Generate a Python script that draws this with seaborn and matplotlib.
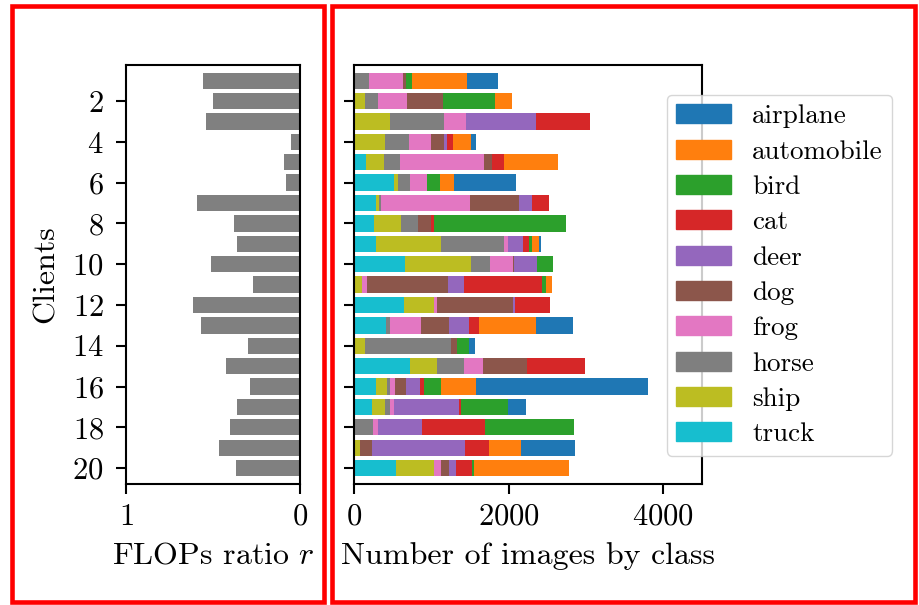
import numpy as np
import pandas as pd
import seaborn as sns
import matplotlib.pyplot as plt
from matplotlib.patches import Patch, Rectangle

# Per-client data
clients = list(range(1, 21))
flops_ratio = [0.56, 0.50, 0.54, 0.05, 0.09, 0.08, 0.59, 0.38, 0.36, 0.51,
               0.27, 0.615, 0.57, 0.30, 0.425, 0.29, 0.36, 0.40, 0.465, 0.37]

classes = ["airplane", "automobile", "bird", "cat", "deer",
           "dog", "frog", "horse", "ship", "truck"]

airplane = [400, 0, 0, 65, 0, 804, 0, 0, 22, 0, 0, 0, 479, 79, 0, 2222, 231, 0, 696, 0]
automobile = [709, 218, 0, 230, 705, 183, 0, 0, 95, 0, 79, 0, 739, 0, 0, 448, 0, 0, 421, 1217]
bird = [82, 669, 0, 0, 0, 174, 0, 1709, 35, 208, 43, 0, 0, 161, 0, 226, 608, 1139, 0, 31]
cat = [0, 0, 700, 83, 156, 0, 217, 44, 74, 0, 1009, 457, 122, 0, 760, 52, 22, 817, 305, 209]
deer = [0, 0, 905, 35, 0, 0, 165, 0, 196, 300, 217, 21, 261, 0, 0, 174, 848, 579, 1200, 87]
dog = [35, 470, 0, 165, 96, 0, 639, 165, 0, 13, 1044, 979, 369, 78, 557, 139, 0, 0, 161, 100]
frog = [435, 378, 287, 283, 1096, 217, 1148, 0, 52, 296, 65, 43, 391, 0, 257, 74, 52, 61, 0, 95]
horse = [200, 166, 695, 321, 208, 157, 31, 217, 817, 248, 0, 0, 53, 1109, 339, 35, 65, 243, 0, 0]
ship = [0, 143, 470, 396, 226, 52, 30, 344, 835, 856, 100, 392, 0, 143, 356, 139, 166, 0, 78, 492]
truck = [0, 0, 0, 0, 157, 513, 287, 265, 287, 657, 0, 643, 417, 0, 722, 287, 230, 0, 0, 543]

counts = pd.DataFrame({
    "airplane": airplane, "automobile": automobile, "bird": bird, "cat": cat,
    "deer": deer, "dog": dog, "frog": frog, "horse": horse, "ship": ship,
    "truck": truck,
}, index=clients)

palette = dict(zip(classes, sns.color_palette("tab10", 10)))

plt.rcParams["font.family"] = ["cmr10"]
plt.rcParams["mathtext.fontset"] = "cm"
plt.rcParams["axes.formatter.use_mathtext"] = True
plt.rcParams["font.size"] = 22

fig = plt.figure(figsize=(9.19, 6.05), dpi=100)
ax_l = fig.add_axes([0.1371, 0.2, 0.1893, 0.6926])
ax_r = fig.add_axes([0.3852, 0.2, 0.3787, 0.6926])

# Left: FLOPs ratio per client
df_l = pd.DataFrame({"client": clients, "r": flops_ratio})
sns.barplot(data=df_l, x="r", y="client", orient="y", native_scale=True,
            color="grey", saturation=1, ax=ax_l)
ax_l.set_xlim(1, 0)
ax_l.set_xticks([1, 0])
ax_l.set_xlabel("FLOPs ratio $r$", fontsize=23, labelpad=8)
ax_l.set_ylabel("Clients", fontsize=23, labelpad=9)

# Right: stacked counts. Stack order left to right is truck ... airplane,
# so draw cumulative totals from the longest down.
stack_order = classes[::-1]
cum = counts[stack_order].cumsum(axis=1)
for cls in classes:
    sns.barplot(x=cum[cls].values, y=clients, orient="y", native_scale=True,
                color=palette[cls], saturation=1, ax=ax_r)
ax_r.set_xlim(0, 4500)
ax_r.set_xticks([0, 2000, 4000])
ax_r.set_xlabel("Number of images by class", fontsize=23, labelpad=8)
ax_r.set_ylabel("")
ax_r.tick_params(axis="y", labelleft=False)

for ax in (ax_l, ax_r):
    ax.set_ylim(20.78, 0.23)
    ax.set_yticks(range(2, 21, 2))
    ax.tick_params(length=7, width=1.5)
    ax.tick_params(axis="y", pad=9)
    ax.tick_params(axis="x", pad=7)
    for sp in ax.spines.values():
        sp.set_linewidth(1.5)

handles = [Patch(color=palette[c], label=c) for c in classes]
ax_r.legend(handles=handles, loc="upper left", bbox_to_anchor=(0.7258, 0.843),
            bbox_transform=fig.transFigure, borderaxespad=0, fontsize=19.5,
            labelspacing=0.42, borderpad=0.35)

# red frames around the two panels
fig.add_artist(Rectangle((0.0127, 0.005), 0.3399, 0.9848, transform=fig.transFigure,
                         fill=False, edgecolor="red", linewidth=3.3))
fig.add_artist(Rectangle((0.3613, 0.005), 0.6343, 0.9848, transform=fig.transFigure,
                         fill=False, edgecolor="red", linewidth=3.3))

plt.savefig("out.png")
plt.close()
